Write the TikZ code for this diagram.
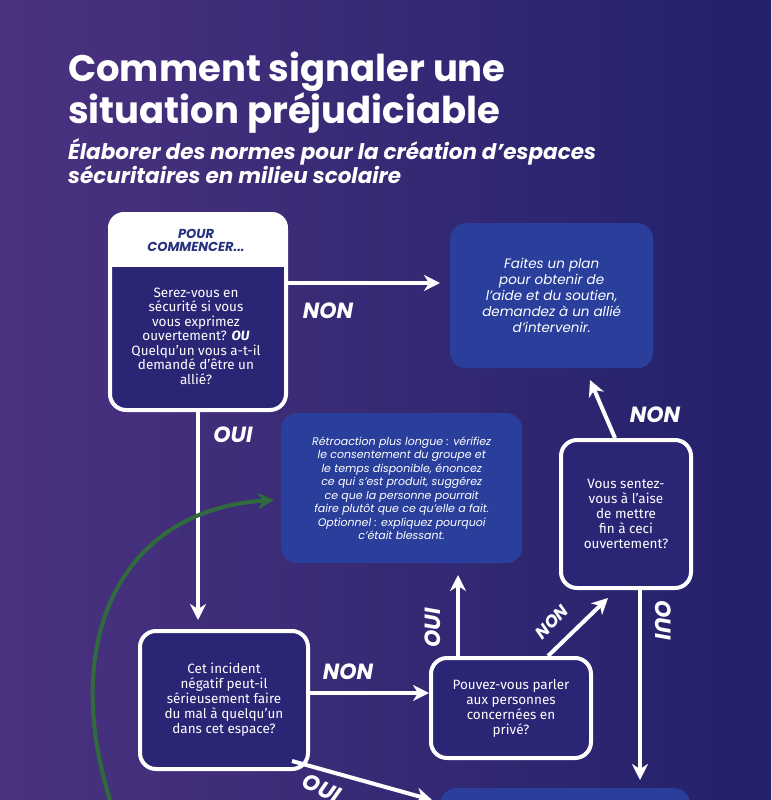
\documentclass[tikz,border=0pt]{standalone}
\usepackage{fontspec}
\setmainfont{Fira Sans}
\newfontfamily\popfont{Poppins}
\usetikzlibrary{arrows.meta,positioning,calc}
\definecolor{bgpurple}{HTML}{4B3280}
\definecolor{bgnavy}{HTML}{22216A}
\definecolor{boxdark}{HTML}{2A2575}
\definecolor{boxblue}{HTML}{2A3F9C}
\definecolor{headblue}{HTML}{27327F}
\definecolor{curvegreen}{HTML}{2F6B3C}
\tikzset{
  qbox/.style={draw=white, line width=4pt, fill=boxdark, rounded corners=16pt,
    text=white, align=center, font=\fontsize{13.5}{15}\selectfont, inner sep=6pt},
  infobox/.style={fill=boxblue, rounded corners=16pt, text=white, align=center,
    font=\popfont\itshape\fontsize{13.5}{16}\selectfont},
  flow/.style={draw=white, line width=4pt, -{Stealth[length=16pt,width=16pt,inset=5pt]}},
  answer/.style={text=white, font=\popfont\bfseries\itshape\fontsize{22}{24}\selectfont},
}
\begin{document}
\begin{tikzpicture}[x=1pt,y=-1pt]
  \useasboundingbox (0,0) rectangle (771,800);
  \clip (0,0) rectangle (771,800);
  \shade[left color=bgpurple, right color=bgnavy] (0,0) rectangle (771,800);

  % titles
  \node[anchor=north west, text=white, align=left, inner sep=0pt,
    font=\popfont\bfseries\fontsize{37}{40}\selectfont] (title) at (68,52)
    {Comment signaler une\\situation préjudiciable};
  \node[anchor=north west, text=white, align=left, inner sep=0pt,
    font=\popfont\bfseries\itshape\fontsize{21.5}{22}\selectfont] (subtitle) at (68,138)
    {Élaborer des normes pour la création d’espaces\\sécuritaires en milieu scolaire};

  % start box
  \node[qbox, minimum width=176pt, minimum height=196pt, anchor=north west] (start) at (108,212) {};
  \begin{scope}
    \clip[rounded corners=16pt] (start.north west) rectangle (start.south east);
    \fill[white] (start.north west) rectangle ($(start.north east)+(0,55)$);
  \end{scope}
  \node[text=headblue, align=center, font=\popfont\bfseries\itshape\fontsize{13}{13}\selectfont]
    (head) at (196,240) {POUR\\COMMENCER...};
  \node[text=white, align=center, font=\fontsize{13.5}{14.5}\selectfont] (starttext) at (196,336)
    {Serez-vous en\\sécurité si vous\\vous exprimez\\ouvertement? \textbf{\textit{OU}}\\Quelqu’un vous a-t-il\\demandé d’être un\\allié?};

  % info boxes
  \node[infobox, minimum width=203pt, minimum height=145pt, anchor=north west] (plan) at (450,223)
    {Faites un plan\\pour obtenir de\\l’aide et du soutien,\\demandez à un allié\\d’intervenir.};
  \node[infobox, minimum width=241pt, minimum height=150pt, anchor=north west,
    font=\popfont\itshape\fontsize{11}{13.5}\selectfont] (feedback) at (281,413)
    {Rétroaction plus longue : vérifiez\\le consentement du groupe et\\le temps disponible, énoncez\\ce qui s’est produit, suggérez\\ce que la personne pourrait\\faire plutôt que ce qu’elle a fait.\\Optionnel : expliquez pourquoi\\c’était blessant.};
  \node[infobox, minimum width=250pt, minimum height=60pt, anchor=north west] (next) at (440,788) {};

  % question boxes
  \node[qbox, minimum width=130pt, minimum height=148pt, anchor=north west] (comfort) at (559,438)
    {Vous sentez-\\vous à l’aise\\de mettre\\fin à ceci\\ouvertement?};
  \node[qbox, minimum width=168pt, minimum height=138pt, anchor=north west] (harm) at (138,629)
    {Cet incident\\négatif peut-il\\sérieusement faire\\du mal à quelqu’un\\dans cet espace?};
  \node[qbox, minimum width=160pt, minimum height=100pt, anchor=north west] (private) at (429,656)
    {Pouvez-vous parler\\aux personnes\\concernées en\\privé?};

  % connectors
  \coordinate (planin) at (440,283);
  \coordinate (harmin) at (198,620);
  \coordinate (fbin) at (458,575);
  \coordinate (cmin) at (608,598);
  \coordinate (planbot) at (590,380);
  \coordinate (nextin) at (640,780);
  \coordinate (nextleft) at (432,800);
  \draw[flow] (start.east |- planin) -- (planin);
  \node[answer] (non1) at (328,311) {NON};
  \draw[flow] (start.south -| harmin) -- (harmin);
  \node[answer] (oui1) at (233,435) {OUI};
  \draw[flow] (harm.east |- 0,693) -- (private.west |- 0,693);
  \node[answer] (non2) at (348,672) {NON};
  \draw[flow] (private.north -| fbin) -- (fbin);
  \node[answer, rotate=90] (oui2) at (433,628) {OUI};
  \draw[flow] (548,656) -- (cmin);
  \node[answer, rotate=45, font=\popfont\bfseries\itshape\fontsize{17}{18}\selectfont] (non3) at (552,622) {NON};
  \draw[flow] (comfort.north -| 615,0) -- (planbot);
  \node[answer] (non4) at (655,415) {NON};
  \draw[flow] (comfort.south -| nextin) -- (nextin);
  \node[answer, rotate=-90] (oui3) at (663,620) {OUI};
  \draw[flow] (292,761) -- (nextleft);
  \node[answer, rotate=-25] (oui4) at (322,788) {OUI};

  % green return curve
  \coordinate (loopstart) at (110,800);
  \coordinate (loopend) at (274,500);
  \draw[curvegreen, line width=4pt, -{Stealth[length=16pt,width=16pt,inset=5pt]}]
    (loopstart) .. controls (60,640) and (120,510) .. (loopend);
\end{tikzpicture}
\end{document}
